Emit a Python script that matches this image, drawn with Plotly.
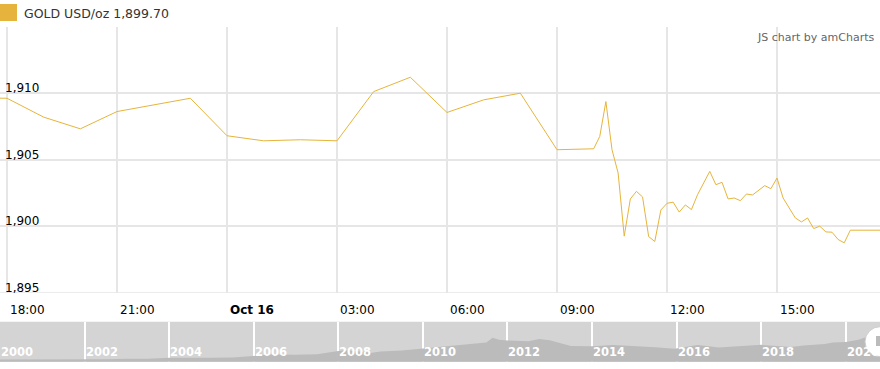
import plotly.graph_objects as go

W, H = 880, 369

# ---- main series (GOLD USD/oz) ----
times = (
    ["2020-10-15 17:00", "2020-10-15 18:00", "2020-10-15 19:00", "2020-10-15 20:00",
     "2020-10-15 21:00", "2020-10-15 23:00",
     "2020-10-16 00:00", "2020-10-16 01:00", "2020-10-16 02:00", "2020-10-16 03:00",
     "2020-10-16 04:00", "2020-10-16 05:00", "2020-10-16 06:00", "2020-10-16 07:00",
     "2020-10-16 08:00", "2020-10-16 09:00", "2020-10-16 10:00"]
    + ["2020-10-16 %02d:%02d" % (h, m) for h in range(10, 18) for m in range(0, 60, 10)
       if (h, m) > (10, 0) and (h, m) <= (17, 50)]
)
prices = [
    1909.65, 1909.62, 1908.20, 1907.32, 1908.62, 1909.62,
    1906.80, 1906.42, 1906.50, 1906.42, 1910.12, 1911.20, 1908.55, 1909.50,
    1910.00, 1905.75, 1905.82,
    # 10:10 ... 17:50
    1906.75, 1909.37, 1905.75, 1904.00, 1899.25,
    1902.05, 1902.62, 1902.20, 1899.22, 1898.85, 1901.22,
    1901.72, 1901.81, 1901.06, 1901.60, 1901.25, 1902.37,
    1903.25, 1904.12, 1903.12, 1903.30, 1902.05, 1902.12,
    1901.92, 1902.42, 1902.35, 1902.70, 1903.05, 1902.82,
    1903.62, 1902.12, 1901.37, 1900.62, 1900.32, 1900.62,
    1899.82, 1900.00, 1899.57, 1899.55, 1899.00, 1898.75,
    1899.70, 1899.70, 1899.70, 1899.70, 1899.70, 1899.70,
]

x_tick_vals = ["2020-10-15 18:00", "2020-10-15 21:00", "2020-10-16 00:00", "2020-10-16 03:00",
               "2020-10-16 06:00", "2020-10-16 09:00", "2020-10-16 12:00", "2020-10-16 15:00"]
x_tick_text = ["18:00", "21:00", "<b>Oct 16</b>", "03:00", "06:00", "09:00", "12:00", "15:00"]
y_grid_vals = [1895, 1900, 1905, 1910, 1915]
y_label_vals = [1895, 1900, 1905, 1910]
y_label_text = ["1,895", "1,900", "1,905", "1,910"]

# ---- scrollbar history (approx. gold price by year) ----
hist_years = [2000.0, 2000.5, 2001.0, 2001.5, 2002.0, 2002.5, 2003.0, 2003.5, 2004.0, 2004.5,
              2005.0, 2005.5, 2006.0, 2006.4, 2007.0, 2007.5, 2008.0, 2008.2, 2008.8, 2009.0,
              2009.5, 2010.0, 2010.5, 2011.0, 2011.5, 2011.65, 2011.8, 2012.0, 2012.5, 2012.75,
              2013.0, 2013.5, 2014.0, 2014.5, 2015.0, 2015.5, 2015.95, 2016.5, 2017.0, 2017.5,
              2018.0, 2018.7, 2019.0, 2019.5, 2019.7, 2020.0, 2020.3, 2020.6, 2020.81]
hist_prices = [285, 285, 265, 270, 280, 315, 350, 350, 410, 395,
               425, 430, 550, 650, 630, 665, 890, 960, 780, 860,
               940, 1100, 1220, 1360, 1500, 1850, 1700, 1650, 1600, 1760,
               1670, 1250, 1240, 1320, 1250, 1170, 1060, 1330, 1150, 1250,
               1340, 1190, 1290, 1400, 1500, 1550, 1700, 2000, 1900]
scroll_years = [2000, 2002, 2004, 2006, 2008, 2010, 2012, 2014, 2016, 2018, 2020]
scroll_labels = ["2000", "2002", "2004", "2006", "2008", "2010", "2012", "2014", "2016", "2018", "2020"]

GOLD = "#E6B43C"
FONT = "DejaVu Sans"
GRID = "#E6E6E6"

def py(px):  # pixel from top -> paper y
    return 1 - px / H

def pxx(px):
    return px / W

fig = go.Figure()
fig.add_trace(go.Scatter(x=times, y=prices, mode="lines",
                         line=dict(color=GOLD, width=1), xaxis="x", yaxis="y",
                         hoverinfo="skip", showlegend=False))
fig.add_trace(go.Scatter(x=hist_years, y=hist_prices, mode="lines", fill="tozeroy",
                         line=dict(color="#BBBBBB", width=0), fillcolor="#BBBBBB",
                         xaxis="x2", yaxis="y2", hoverinfo="skip", showlegend=False))

annotations = [
    dict(text="GOLD USD/oz 1,899.70", x=pxx(22), y=py(14), xref="paper", yref="paper",
         xanchor="left", yanchor="middle", showarrow=False,
         font=dict(family=FONT, size=12.5, color="#333333")),
    dict(text="JS chart by amCharts", x=pxx(876), y=py(37), xref="paper", yref="paper",
         xanchor="right", yanchor="middle", showarrow=False,
         font=dict(family=FONT, size=11, color="#666666")),
]
for v, lab in zip(y_label_vals, y_label_text):
    annotations.append(dict(text=lab, x=pxx(3), y=v, xref="paper", yref="y",
                            xanchor="left", yanchor="bottom", showarrow=False, yshift=-4,
                            font=dict(family=FONT, size=12, color="#000000")))
for yr, lab in zip(scroll_years, scroll_labels):
    annotations.append(dict(text="<b>%s</b>" % lab, x=yr, y=py(352), xref="x2", yref="paper",
                            xanchor="left", yanchor="middle", showarrow=False, xshift=-1,
                            font=dict(family=FONT, size=11.5, color="#FFFFFF")))

shapes = [
    dict(type="rect", xref="paper", yref="paper", x0=pxx(0), x1=pxx(17), y0=py(21), y1=py(4),
         fillcolor=GOLD, line=dict(width=0)),
    dict(type="line", xref="paper", yref="y", x0=0, x1=1, y0=1895, y1=1895,
         line=dict(color=GRID, width=1.5), layer="below"),
    dict(type="circle", xref="paper", yref="paper", x0=pxx(865), x1=pxx(895),
         y0=py(356.7), y1=py(326.7), fillcolor="#FFFFFF", line=dict(color="#CCCCCC", width=1)),
    dict(type="rect", xref="paper", yref="paper", x0=pxx(876), x1=pxx(880),
         y0=py(346), y1=py(336), fillcolor="#BBBBBB", line=dict(width=0)),
    dict(type="rect", xref="paper", yref="paper", x0=0, x1=1,
         y0=py(361.7), y1=py(321.7), fillcolor="#D4D4D4", line=dict(width=0), layer="below"),
]

fig.update_layout(
    width=W, height=H, margin=dict(l=0, r=0, t=0, b=0),
    paper_bgcolor="#FFFFFF", plot_bgcolor="#FFFFFF",
    font=dict(family=FONT, size=12, color="#000000"),
    showlegend=False,
    xaxis=dict(domain=[0, 1], type="date",
               range=["2020-10-15 17:48:33", "2020-10-16 17:48:33"],
               tickmode="array", tickvals=x_tick_vals, ticktext=x_tick_text,
               ticklabelposition="outside right", ticklabelstandoff=8, ticklabelshift=3,
               ticks="", showline=False, zeroline=False,
               showgrid=True, gridcolor=GRID, gridwidth=1.5,
               tickfont=dict(family=FONT, size=12, color="#000000"), anchor="y"),
    yaxis=dict(domain=[py(292.7), py(26.7)], range=[1895, 1915],
               tickmode="array", tickvals=y_grid_vals, showticklabels=False,
               ticks="", showline=False, zeroline=False,
               showgrid=True, gridcolor=GRID, gridwidth=1.5, anchor="x"),
    xaxis2=dict(domain=[0, 1], range=[2000, 2020.81], anchor="y2",
                tickmode="array", tickvals=scroll_years[1:], showticklabels=False,
                ticks="", showline=False, zeroline=False,
                showgrid=True, gridcolor="#FFFFFF", gridwidth=2, layer="above traces"),
    yaxis2=dict(domain=[py(361.7), py(321.7)], range=[135, 2990], anchor="x2",
                showticklabels=False, showgrid=False, zeroline=False, ticks=""),
    annotations=annotations, shapes=shapes,
)

fig.write_html("out.html")
